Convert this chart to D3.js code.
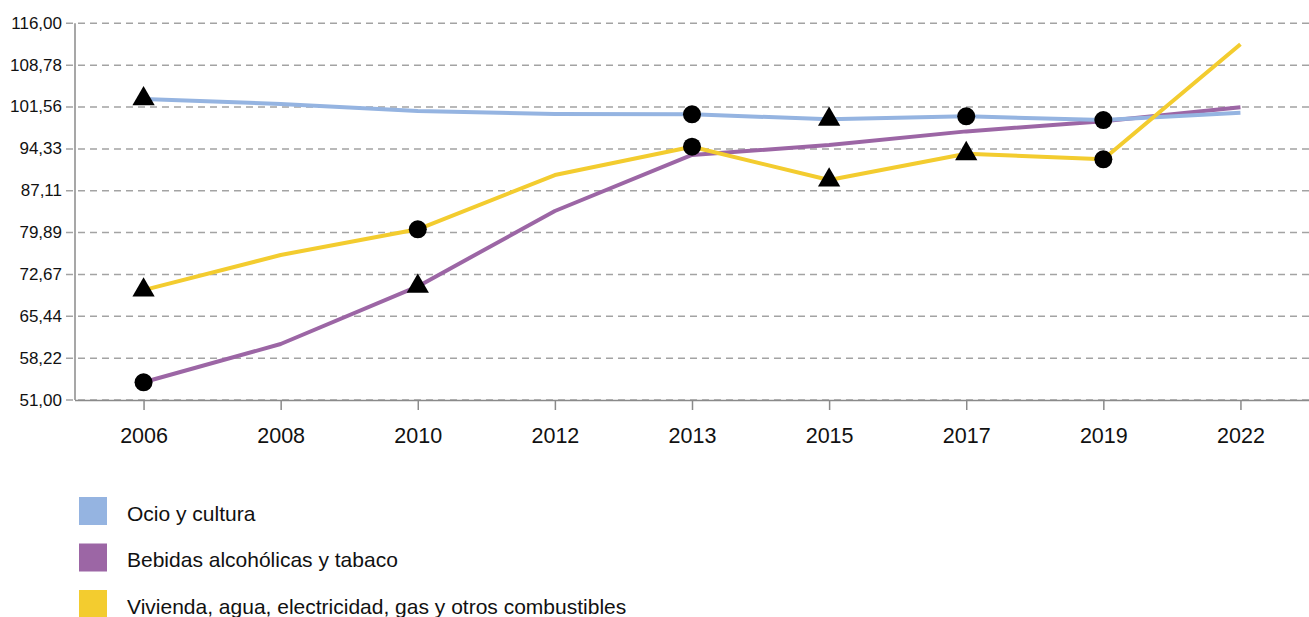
<!DOCTYPE html>
<html>
<head>
<meta charset="utf-8">
<script src="https://cdn.jsdelivr.net/npm/d3@7"></script>
<style>
  html, body { margin: 0; padding: 0; background: #fff; }
  svg { display: block; font-family: "Liberation Sans", Arial, Helvetica, sans-serif; }
</style>
</head>
<body>
<svg id="chart" width="1309" height="617"></svg>
<script>
const years = ["2006", "2008", "2010", "2012", "2013", "2015", "2017", "2019", "2022"];
const yTickValues = [51, 58.22, 65.44, 72.67, 79.89, 87.11, 94.33, 101.56, 108.78, 116];
const yTickLabels = ["51,00", "58,22", "65,44", "72,67", "79,89", "87,11", "94,33", "101,56", "108,78", "116,00"];

const seriesNames = ["Ocio y cultura", "Bebidas alcohólicas y tabaco", "Vivienda, agua, electricidad, gas y otros combustibles"];
const seriesColors = ["#95b4e1", "#9c66a5", "#f3cc2f"];
const ocio     = [102.95, 102.07, 100.87, 100.35, 100.30, 99.43, 99.95, 99.30, 100.57];
const bebidas  = [54.06, 60.66, 70.60, 83.61, 93.28, 95.00, 97.35, 99.10, 101.50];
const vivienda = [69.95, 76.02, 80.45, 89.82, 94.70, 88.96, 93.50, 92.53, 112.40];

// markers: [series index, year, shape]
const markers = [
  [0, "2006", "triangle"], [0, "2013", "circle"], [0, "2015", "triangle"], [0, "2017", "circle"], [0, "2019", "circle"],
  [1, "2006", "circle"], [1, "2010", "triangle"],
  [2, "2006", "triangle"], [2, "2010", "circle"], [2, "2013", "circle"], [2, "2015", "triangle"], [2, "2017", "triangle"], [2, "2019", "circle"]
];

const seriesValues = [ocio, bebidas, vivienda];
const drawOrder = [1, 0, 2];

const svg = d3.select("#chart");
const plotLeft = 75, plotRight = 1309, plotTop = 23.3, plotBottom = 400;

const x = d3.scalePoint().domain(years).range([plotLeft, plotRight]).padding(0.5);
const y = d3.scaleLinear().domain([51, 116]).range([plotBottom, plotTop]);

// grid
svg.append("g").selectAll("line").data(yTickValues).join("line")
  .attr("x1", 66).attr("x2", plotRight)
  .attr("y1", d => y(d)).attr("y2", d => y(d))
  .attr("stroke", "#a3a3a3").attr("stroke-width", 1.5)
  .attr("stroke-dasharray", "7,5");

// y labels
svg.append("g").selectAll("text").data(yTickValues).join("text")
  .attr("x", 62).attr("y", d => y(d))
  .attr("text-anchor", "end").attr("dominant-baseline", "central")
  .attr("font-size", 17).attr("fill", "#111")
  .text((d, i) => yTickLabels[i]);

// y axis line
svg.append("line").attr("x1", plotLeft).attr("x2", plotLeft).attr("y1", plotTop).attr("y2", plotBottom)
  .attr("stroke", "#8a8a8a").attr("stroke-width", 1.5);

// x axis
const xAxis = d3.axisBottom(x).tickSize(10).tickPadding(18);
const gx = svg.append("g").attr("transform", `translate(0,${plotBottom})`).call(xAxis);
gx.select(".domain").attr("d", `M${plotLeft},0.5H${plotRight}`).attr("stroke", "#8a8a8a").attr("stroke-width", 1.5);
gx.selectAll(".tick line").attr("stroke", "#8a8a8a").attr("stroke-width", 1.5);
gx.selectAll(".tick text").attr("font-size", 21.5).attr("fill", "#111")
  .attr("font-family", "'Liberation Sans', Arial, Helvetica, sans-serif");

// lines
const line = d3.line().x((d, i) => x(years[i])).y(d => y(d));
drawOrder.forEach(si => {
  svg.append("path").datum(seriesValues[si])
    .attr("d", line)
    .attr("fill", "none")
    .attr("stroke", seriesColors[si])
    .attr("stroke-width", 4)
    .attr("stroke-linejoin", "round");
});

// markers
const triSym = d3.symbol().type(d3.symbolTriangle).size(215);
const cirSym = d3.symbol().type(d3.symbolCircle).size(255);
svg.append("g").selectAll("path").data(markers).join("path")
  .attr("transform", d => `translate(${x(d[1])},${y(seriesValues[d[0]][years.indexOf(d[1])])})`)
  .attr("d", d => d[2] === "triangle" ? triSym() : cirSym())
  .attr("fill", "#000");

// legend
const lg = svg.append("g");
seriesNames.forEach((name, i) => {
  const ty = 497 + i * 46.5;
  lg.append("rect").attr("x", 79).attr("y", ty).attr("width", 28).attr("height", 28).attr("fill", seriesColors[i]);
  lg.append("text").attr("x", 127).attr("y", ty + 16).attr("dominant-baseline", "central")
    .attr("font-size", 21).attr("fill", "#111").text(name);
});
</script>
</body>
</html>
